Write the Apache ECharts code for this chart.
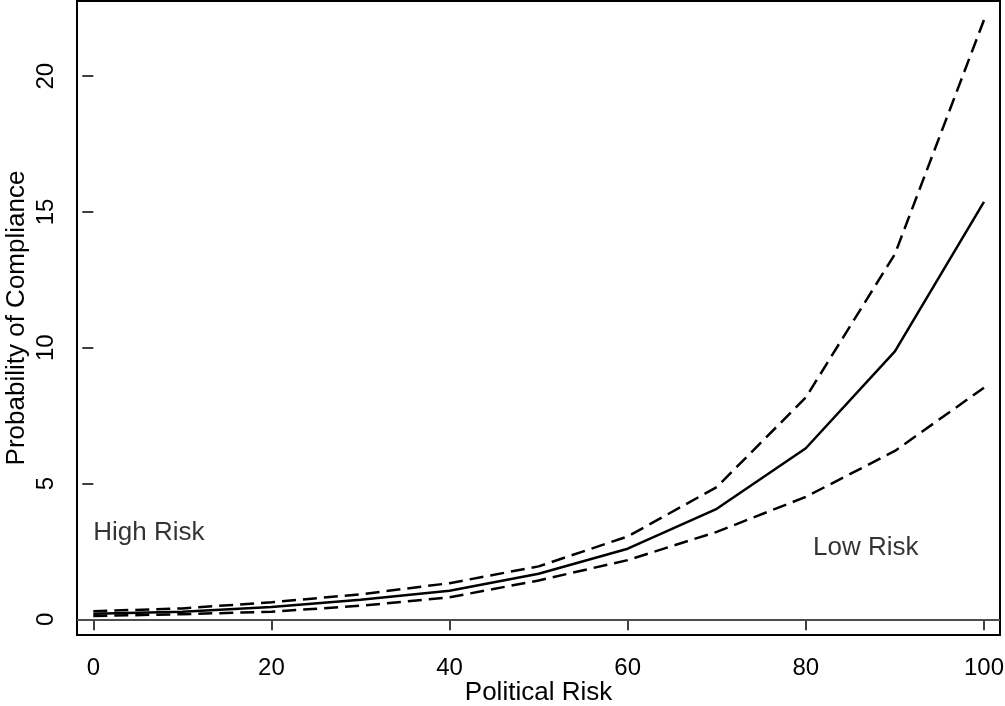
<!DOCTYPE html>
<html>
<head>
<meta charset="utf-8">
<script src="https://cdn.jsdelivr.net/npm/echarts@6/dist/echarts.min.js"></script>
<style>
	html, body { margin: 0; padding: 0; background: #fff; }
	#chart { width: 1005px; height: 706px; }
</style>
</head>
<body>
<div id="chart"></div>
<script>
// political risk, step 10
var riskValues = [0, 10, 20, 30, 40, 50, 60, 70, 80, 90, 100];
// predicted value
var predicted = [0.2, 0.28, 0.45, 0.72, 1.05, 1.68, 2.6, 4.07, 6.3, 9.87, 15.37];
// upper bound (dashed)
var upperBound = [0.3, 0.4, 0.63, 0.92, 1.33, 1.95, 3.05, 4.87, 8.17, 13.45, 22.07];
// lower bound (dashed)
var lowerBound = [0.12, 0.19, 0.28, 0.5, 0.81, 1.43, 2.18, 3.22, 4.51, 6.2, 8.53];

var xTicks = [0, 20, 40, 60, 80, 100];
var yTicks = [0, 5, 10, 15, 20];

// text notes inside the plot
var noteText = ['High Risk', 'Low Risk'];
var noteX = [0, 80.8];
var noteY = [3.2, 2.65];

var fontName = '"Liberation Sans", Arial, Helvetica, sans-serif';

function pairs(xs, ys) {
	var out = [];
	for (var i = 0; i < xs.length; i++) {
		out.push([xs[i], ys[i]]);
	}
	return out;
}

var notes = [];
for (var i = 0; i < noteText.length; i++) {
	notes.push({ value: [noteX[i], noteY[i]], name: noteText[i] });
}

var myChart = echarts.init(document.getElementById('chart'), null, { renderer: 'canvas' });

var dashed = { color: '#000', width: 2.5, type: [14, 7] };

var option = {
	animation: false,
	backgroundColor: '#fff',
	grid: {
		left: 77,
		right: 5,
		top: 1,
		bottom: 71,
		outerBoundsMode: 'none',
		containLabel: false,
		show: true,
		borderColor: '#000',
		borderWidth: 2,
		backgroundColor: '#fff'
	},
	xAxis: {
		type: 'value',
		min: -1.83,
		max: 101.8,
		name: 'Political Risk',
		nameLocation: 'middle',
		nameGap: 45,
		nameMoveOverlap: false,
		nameTextStyle: { fontSize: 26, color: '#000', fontFamily: fontName },
		axisLine: { show: false },
		axisTick: {
			show: true,
			inside: false,
			length: 11,
			customValues: xTicks,
			lineStyle: { color: '#000', width: 1.5 }
		},
		axisLabel: {
			customValues: xTicks,
			margin: 21,
			fontSize: 24,
			color: '#000',
			fontFamily: fontName
		},
		splitLine: { show: false }
	},
	yAxis: {
		type: 'value',
		min: -0.578,
		max: 22.77,
		name: 'Probability of Compliance',
		nameLocation: 'middle',
		nameRotate: 90,
		nameGap: 47,
		nameMoveOverlap: false,
		nameTextStyle: { fontSize: 26, color: '#000', fontFamily: fontName },
		axisLine: { show: false },
		axisTick: {
			show: true,
			inside: false,
			length: 11,
			customValues: yTicks,
			lineStyle: { color: '#000', width: 1.5 }
		},
		axisLabel: {
			customValues: yTicks,
			rotate: 90,
			margin: 19,
			fontSize: 24,
			color: '#000',
			fontFamily: fontName
		},
		splitLine: { show: false }
	},
	series: [
		{
			type: 'line',
			data: pairs(riskValues, upperBound),
			symbol: 'none',
			lineStyle: dashed,
			z: 3
		},
		{
			type: 'line',
			data: pairs(riskValues, predicted),
			symbol: 'none',
			lineStyle: { color: '#000', width: 2.5, type: 'solid' },
			z: 3,
			markLine: {
				silent: true,
				symbol: 'none',
				label: { show: false },
				lineStyle: { color: '#4d4d4d', width: 2, type: 'solid' },
				data: [{ yAxis: 0 }]
			}
		},
		{
			type: 'line',
			data: pairs(riskValues, lowerBound),
			symbol: 'none',
			lineStyle: dashed,
			z: 3
		},
		{
			// 图中文字
			type: 'scatter',
			data: notes,
			symbolSize: 0,
			silent: true,
			label: {
				show: true,
				position: 'right',
				distance: 0,
				formatter: '{b}',
				fontSize: 26,
				color: '#000',
				fontFamily: fontName
			}
		}
	]
};

myChart.setOption(option);
</script>
</body>
</html>
